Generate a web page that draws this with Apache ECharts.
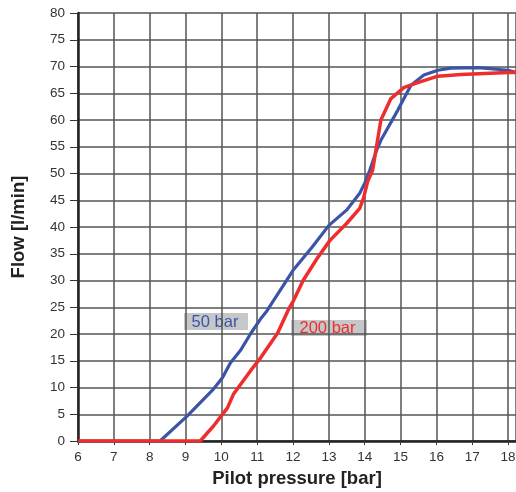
<!DOCTYPE html>
<html>
<head>
<meta charset="utf-8">
<script src="https://cdn.jsdelivr.net/npm/echarts@6/dist/echarts.min.js"></script>
<style>html,body{margin:0;padding:0;background:#fff}#c{width:516px;height:492px}</style>
</head>
<body>
<div id="c"></div>
<script>
var seriesNames = ['50 bar', '200 bar'];
var pressure50 = [6, 8.29, 9.05, 9.78, 10.03, 10.25, 10.53, 10.81, 11.09, 11.28, 11.45, 12.0, 12.53, 13.0, 13.5, 13.86, 14.0, 14.14, 14.33, 14.45, 14.92, 15.29, 15.65, 16.04, 16.4, 17.16, 18.0, 18.22];
var flow50     = [0, 0, 4.7, 9.7, 11.8, 14.6, 16.9, 20.0, 22.8, 24.4, 26.2, 31.9, 36.2, 40.3, 43.2, 46.3, 48.2, 50.6, 54.3, 56.2, 61.8, 66.5, 68.4, 69.3, 69.7, 69.8, 69.3, 68.9];
var pressure200 = [6, 9.41, 9.78, 10.17, 10.34, 10.81, 11.09, 11.57, 11.86, 12.01, 12.28, 12.67, 13.03, 13.5, 13.86, 13.97, 14.08, 14.22, 14.45, 14.73, 15.1, 15.48, 16.04, 16.69, 18.0, 18.22];
var flow200     = [0, 0, 2.8, 6.2, 8.8, 13.1, 15.5, 20.2, 24.4, 26.2, 30.0, 34.1, 37.5, 40.7, 43.5, 45.5, 48.5, 50.6, 60.0, 64.0, 66.1, 67.0, 68.2, 68.5, 68.9, 68.9];
var xTicks = [6, 7, 8, 9, 10, 11, 12, 13, 14, 15, 16, 17, 18];
var yTicks = [0, 5, 10, 15, 20, 25, 30, 35, 40, 45, 50, 55, 60, 65, 70, 75, 80];

function pairs(xs, ys) { return xs.map(function (x, i) { return [x, ys[i]]; }); }

var chart = echarts.init(document.getElementById('c'), null, { renderer: 'canvas' });
var font = "'Liberation Sans', Arial, sans-serif";
chart.setOption({
  animation: false,
  backgroundColor: '#fff',
  grid: { left: 78, right: 0, top: 13, bottom: 51, containLabel: false, outerBoundsMode: 'none' },
  xAxis: {
    type: 'value', min: xTicks[0], max: 18.22, interval: 1,
    name: 'Pilot pressure [bar]', nameLocation: 'middle', nameGap: 28,
    nameTextStyle: { fontFamily: font, fontSize: 18.5, fontWeight: 'bold', color: '#222' },
    axisLine: { show: true, onZero: false, lineStyle: { color: '#222', width: 2.5 } },
    axisTick: { show: true, length: 4, lineStyle: { color: '#333', width: 1 } },
    axisLabel: { fontFamily: font, fontSize: 13.5, color: '#333', margin: 9, showMaxLabel: false,
      formatter: function (v) { return xTicks.indexOf(v) >= 0 ? String(v) : ''; } },
    splitLine: { show: true, lineStyle: { color: '#555', width: 1.5 } }
  },
  yAxis: {
    type: 'value', min: yTicks[0], max: yTicks[yTicks.length - 1], interval: 5,
    name: 'Flow [l/min]', nameLocation: 'middle', nameGap: 50, nameRotate: 90,
    nameTextStyle: { fontFamily: font, fontSize: 18.5, fontWeight: 'bold', color: '#222' },
    axisLine: { show: true, lineStyle: { color: '#222', width: 2.5 } },
    axisTick: { show: true, length: 8, lineStyle: { color: '#333', width: 1 } },
    axisLabel: { fontFamily: font, fontSize: 13.5, color: '#333', margin: 13 },
    splitLine: { show: true, lineStyle: { color: '#555', width: 1.5 } }
  },
  series: [
    { name: seriesNames[0], type: 'line', data: pairs(pressure50, flow50), showSymbol: false,
      lineStyle: { color: '#3a55a6', width: 3.2 }, itemStyle: { color: '#3a55a6' }, z: 3 },
    { name: seriesNames[1], type: 'line', data: pairs(pressure200, flow200), showSymbol: false,
      lineStyle: { color: '#ee2e2e', width: 3.5 }, itemStyle: { color: '#ee2e2e' }, z: 4 }
  ],
  graphic: [
    { type: 'group', left: 184, top: 313, z: 10, children: [
      { type: 'rect', shape: { x: 0, y: 0, width: 64, height: 17 }, style: { fill: '#c6c7c9' } },
      { type: 'text', x: 31, y: 9, style: { text: seriesNames[0], fill: '#3a55a6', font: "16.5px 'Liberation Sans', Arial, sans-serif", align: 'center', verticalAlign: 'middle' } }
    ]},
    { type: 'group', left: 291, top: 320, z: 10, children: [
      { type: 'rect', shape: { x: 0, y: 0, width: 76, height: 16 }, style: { fill: '#c6c7c9' } },
      { type: 'text', x: 36.5, y: 8.5, style: { text: seriesNames[1], fill: '#ee2e2e', font: "16.5px 'Liberation Sans', Arial, sans-serif", align: 'center', verticalAlign: 'middle' } }
    ]}
  ]
});
</script>
</body>
</html>
